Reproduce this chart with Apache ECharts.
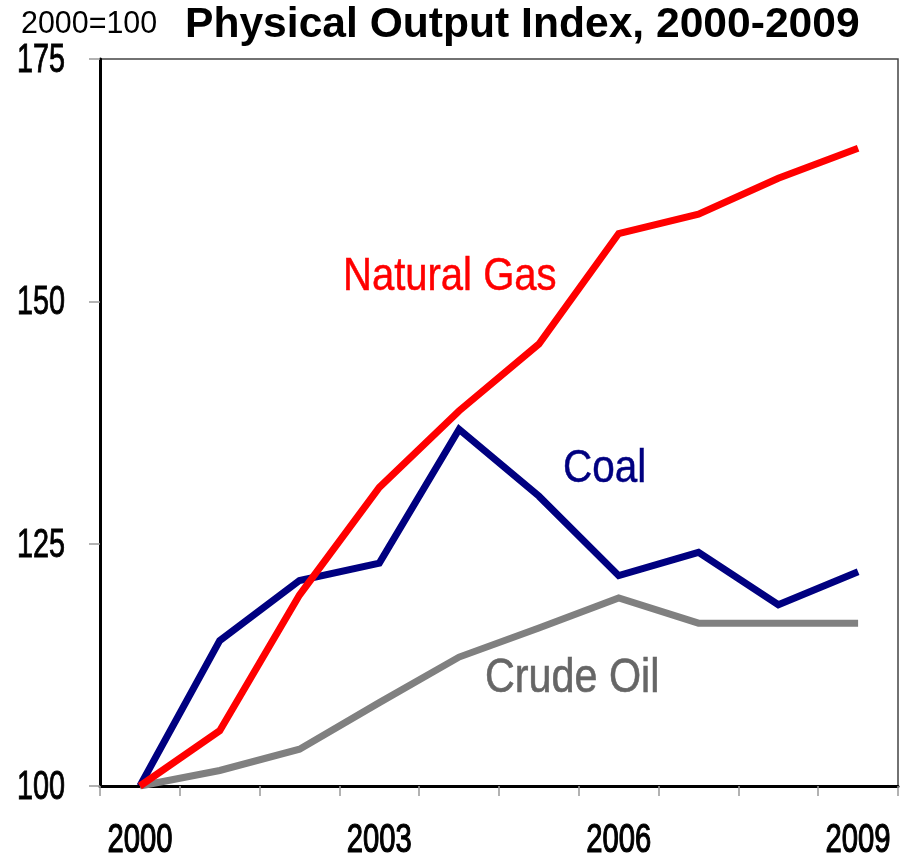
<!DOCTYPE html>
<html><head><meta charset="utf-8">
<script src="https://cdn.jsdelivr.net/npm/echarts@6/dist/echarts.min.js"></script>
<style>html,body{margin:0;padding:0;background:#fff}#c{width:906px;height:857px}</style>
</head><body><div id="c"></div>
<script>
const years = ['2000','2001','2002','2003','2004','2005','2006','2007','2008','2009'];
const xTickLabels = ['2000','2003','2006','2009'];
const naturalGas = [100, 105.7, 119.7, 130.8, 138.7, 145.6, 157.0, 159.0, 162.7, 165.8];
const coal = [100, 115.0, 121.2, 123.0, 136.8, 129.9, 121.7, 124.1, 118.7, 122.1];
const crudeOil = [100, 101.6, 103.8, 108.6, 113.3, 116.3, 119.4, 116.8, 116.8, 116.8];
const yTicks = [100, 125, 150, 175];

const sans = '"Liberation Sans", Arial, sans-serif';
const chart = echarts.init(document.getElementById('c'), null, {renderer: 'canvas'});
function line(name, data, color) {
  return {name, type: 'line', data, symbol: 'none', lineStyle: {color, width: 7, cap: 'butt', join: 'miter'}, animation: false, z: 3};
}
chart.setOption({
  animation: false,
  grid: {left: 100, top: 59, right: 8, bottom: 71, show: true, borderColor: '#444', borderWidth: 1.5},
  xAxis: {
    type: 'category', data: years, boundaryGap: true,
    axisLine: {lineStyle: {color: '#000', width: 3}},
    axisTick: {show: true, interval: 0, length: 10, lineStyle: {color: '#999', width: 1.5}},
    axisLabel: {show: false}
  },
  yAxis: {
    type: 'value', min: yTicks[0], max: yTicks[yTicks.length - 1], interval: 25,
    axisLine: {show: true, lineStyle: {color: '#000', width: 3}},
    axisTick: {show: true, length: 11, lineStyle: {color: '#999', width: 1.5}},
    splitLine: {show: false},
    axisLabel: {show: false}
  },
  series: [
    line('Crude Oil', crudeOil, '#808080'),
    line('Coal', coal, '#000080'),
    line('Natural Gas', naturalGas, '#FF0000')
  ]
});

function txt(x, y, text, size, opts) {
  opts = opts || {};
  const color = opts.color || '#000';
  const s = {
    x: 0, y: 0, text, fill: color,
    font: (opts.weight || 'normal') + ' ' + size + 'px ' + sans,
    align: opts.align || 'left', verticalAlign: 'middle'
  };
  if (opts.stroke) { s.stroke = color; s.lineWidth = opts.stroke; }
  return {type: 'text', x, y, scaleX: opts.sx || 1, z: 10, style: s};
}
const g = [];
g.push(txt(185, 25, 'Physical Output Index, 2000-2009', 42.6, {weight: 'bold'}));
g.push(txt(21, 24, '2000=100', 32, {sx: 0.95}));
yTicks.forEach(v => {
  const py = chart.convertToPixel({yAxisIndex: 0}, v);
  g.push(txt(65, py + 2, String(v), 40, {sx: 0.72, align: 'right', stroke: 0.9}));
});
xTickLabels.forEach(c => {
  const px = chart.convertToPixel({xAxisIndex: 0}, c);
  g.push(txt(px, 841, c, 40, {sx: 0.73, align: 'center', stroke: 1.2}));
});
g.push(txt(343, 277, 'Natural Gas', 46, {sx: 0.87, color: '#FF0000', stroke: 0.5}));
g.push(txt(563, 469, 'Coal', 46, {sx: 0.88, color: '#000080', stroke: 0.5}));
g.push(txt(485, 679, 'Crude Oil', 48, {sx: 0.86, color: '#666666', stroke: 0.6}));
chart.setOption({graphic: g});
</script></body></html>
